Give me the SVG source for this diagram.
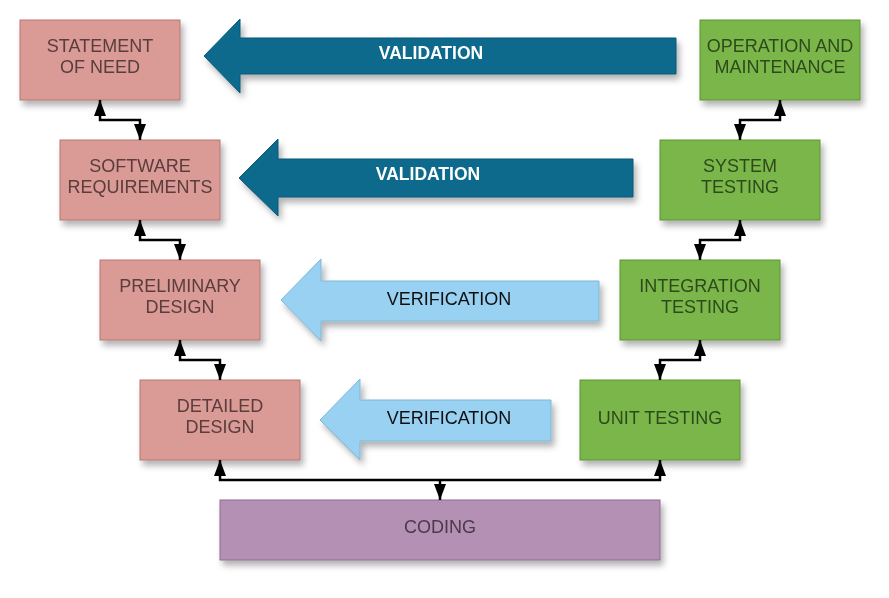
<svg xmlns="http://www.w3.org/2000/svg" width="889" height="598" viewBox="0 0 889 598">
<defs>
<filter id="sh" x="-20%" y="-30%" width="150%" height="170%">
<feDropShadow dx="3" dy="5" stdDeviation="3" flood-color="#000" flood-opacity="0.3"/>
</filter>
<marker id="ah" viewBox="0 0 16 12" refX="16" refY="6" markerWidth="16" markerHeight="12" markerUnits="userSpaceOnUse" orient="auto-start-reverse">
<path d="M0,0 L16,6 L0,12 z" fill="#000"/>
</marker>
</defs>
<style>
text{font-family:"Liberation Sans",Arial,sans-serif;font-size:18px;text-anchor:middle}
.pink rect{fill:#da9a96;stroke:#b87672;stroke-width:1}
.pink text{fill:#5a3c3c}
.green rect{fill:#7ab648;stroke:#5d9630;stroke-width:1}
.green text{fill:#2e4a1c}
.purple rect{fill:#b490b4;stroke:#8e6c8e;stroke-width:1}
.purple text{fill:#4a3a4a}
.val path{fill:#0b6a8c;stroke:#09597a;stroke-width:1}
.val text{fill:#fff;font-weight:bold;font-size:17.5px}
.ver path{fill:#99d1f2;stroke:#7fb7d8;stroke-width:1}
.ver text{fill:#111}
#connectors path{fill:none;stroke:#000;stroke-width:2.5;marker-start:url(#ah);marker-end:url(#ah)}
#connectors path.one{marker-start:none}
</style>
<rect width="889" height="598" fill="#fff"/>

<g id="val1" class="val" filter="url(#sh)">
<path d="M204,56 L240,19 L240,38 L676,38 L676,74 L240,74 L240,93 Z"/>
<text x="431" y="59">VALIDATION</text>
</g>
<g id="val2" class="val" filter="url(#sh)">
<path d="M239,178 L278,139 L278,159 L633,159 L633,197 L278,197 L278,216 Z"/>
<text x="428" y="180">VALIDATION</text>
</g>
<g id="ver1" class="ver" filter="url(#sh)">
<path d="M281,300 L321,259 L321,281 L599,281 L599,321 L321,321 L321,341 Z"/>
<text x="449" y="305">VERIFICATION</text>
</g>
<g id="ver2" class="ver" filter="url(#sh)">
<path d="M320,420 L360,379 L360,400 L551,400 L551,441 L360,441 L360,460 Z"/>
<text x="449" y="424">VERIFICATION</text>
</g>

<g id="statement" class="pink" filter="url(#sh)">
<rect x="20" y="20" width="160" height="80"/>
<text x="100" y="52">STATEMENT</text>
<text x="100" y="73">OF NEED</text>
</g>
<g id="softreq" class="pink" filter="url(#sh)">
<rect x="60" y="140" width="160" height="80"/>
<text x="140" y="172">SOFTWARE</text>
<text x="140" y="193">REQUIREMENTS</text>
</g>
<g id="prelim" class="pink" filter="url(#sh)">
<rect x="100" y="260" width="160" height="80"/>
<text x="180" y="292">PRELIMINARY</text>
<text x="180" y="313">DESIGN</text>
</g>
<g id="detailed" class="pink" filter="url(#sh)">
<rect x="140" y="380" width="160" height="80"/>
<text x="220" y="412">DETAILED</text>
<text x="220" y="433">DESIGN</text>
</g>
<g id="coding" class="purple" filter="url(#sh)">
<rect x="220" y="500" width="440" height="60"/>
<text x="440" y="533">CODING</text>
</g>
<g id="unit" class="green" filter="url(#sh)">
<rect x="580" y="380" width="160" height="80"/>
<text x="660" y="424">UNIT TESTING</text>
</g>
<g id="integration" class="green" filter="url(#sh)">
<rect x="620" y="260" width="160" height="80"/>
<text x="700" y="292">INTEGRATION</text>
<text x="700" y="313">TESTING</text>
</g>
<g id="system" class="green" filter="url(#sh)">
<rect x="660" y="140" width="160" height="80"/>
<text x="740" y="172">SYSTEM</text>
<text x="740" y="193">TESTING</text>
</g>
<g id="operation" class="green" filter="url(#sh)">
<rect x="700" y="20" width="160" height="80"/>
<text x="780" y="52">OPERATION AND</text>
<text x="780" y="73">MAINTENANCE</text>
</g>

<g id="connectors">
<path d="M100,100 V120 H140 V140"/>
<path d="M140,220 V240 H180 V260"/>
<path d="M180,340 V360 H220 V380"/>
<path d="M220,460 V480 H660 V460"/>
<path class="one" d="M440,480 V500"/>
<path d="M700,340 V360 H660 V380"/>
<path d="M740,220 V240 H700 V260"/>
<path d="M780,100 V120 H740 V140"/>
</g>
</svg>
